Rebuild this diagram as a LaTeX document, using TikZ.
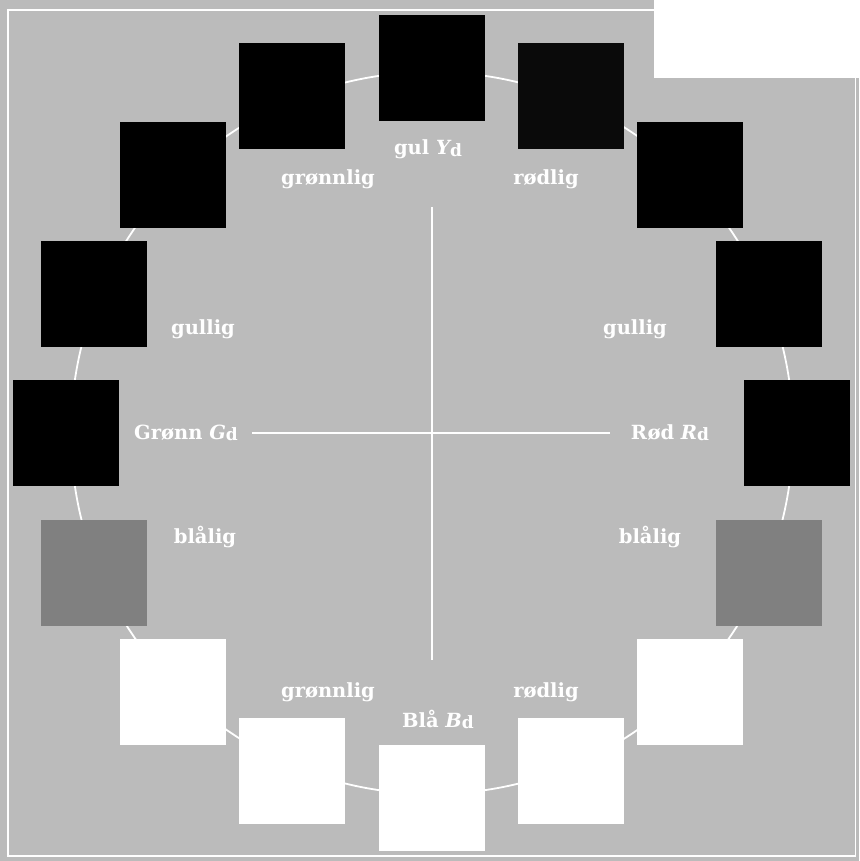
\documentclass[tikz,border=0pt]{standalone}
\usepackage{fontspec}
\setmainfont{DejaVu Serif}
\definecolor{bg}{HTML}{BBBBBB}
\definecolor{midgray}{HTML}{808080}
\newcommand{\subd}{\raisebox{-1.5pt}{\fontsize{17}{17}\selectfont d}}
\begin{document}
\begin{tikzpicture}[x=1pt,y=-1pt,
  sq/.style={minimum size=106pt,inner sep=0pt,draw=none},
  lab/.style={text=white,font=\bfseries\fontsize{19.5}{23}\selectfont,anchor=base,inner sep=0pt},
  wline/.style={draw=white,line width=1.8pt}]
\useasboundingbox (0,0) rectangle (859,861);
\fill[bg] (0,0) rectangle (859,861);
\draw[wline] (432,433) circle (361);
% crosshair
\coordinate (vt) at (432,207);
\coordinate (vb) at (432,660);
\coordinate (hl) at (252,433);
\coordinate (hr) at (610,433);
\draw[wline] (vt) -- (vb);
\draw[wline] (hl) -- (hr);
% squares
\node[sq,fill=black] (s1) at (432,68) {};
\node[sq,fill=black] (s2l) at (292,96) {};
\node[sq,fill=black!96] (s2r) at (571,96) {};
\node[sq,fill=black] (s3l) at (173,175) {};
\node[sq,fill=black] (s3r) at (690,175) {};
\node[sq,fill=black] (s4l) at (94,294) {};
\node[sq,fill=black] (s4r) at (769,294) {};
\node[sq,fill=black] (s5l) at (66,433) {};
\node[sq,fill=black] (s5r) at (797,433) {};
\node[sq,fill=midgray] (s6l) at (94,573) {};
\node[sq,fill=midgray] (s6r) at (769,573) {};
\node[sq,fill=white] (s7l) at (173,692) {};
\node[sq,fill=white] (s7r) at (690,692) {};
\node[sq,fill=white] (s8l) at (292,771) {};
\node[sq,fill=white] (s8r) at (571,771) {};
\node[sq,fill=white] (s9) at (432,798) {};
% labels
\node[lab] (ly) at (428,155) {gul {\itshape Y}\subd};
\node[lab] (lgt) at (328,184) {grønnlig};
\node[lab] (lrt) at (546,184) {rødlig};
\node[lab] (lgl) at (203,334) {gullig};
\node[lab] (lgr) at (635,334) {gullig};
\node[lab] (lg) at (186,439) {Grønn {\itshape G}\subd};
\node[lab] (lr) at (670,439) {Rød {\itshape R}\subd};
\node[lab] (lbl) at (205,543) {blålig};
\node[lab] (lbr) at (650,543) {blålig};
\node[lab] (lgb) at (328,697) {grønnlig};
\node[lab] (lrb) at (546,697) {rødlig};
\node[lab] (lb) at (438,727) {Blå {\itshape B}\subd};
% frame
\draw[draw=white,line width=1.5pt] (8,10) rectangle (855.5,856);
\fill[white] (654,0) rectangle (859,78);
\end{tikzpicture}
\end{document}
